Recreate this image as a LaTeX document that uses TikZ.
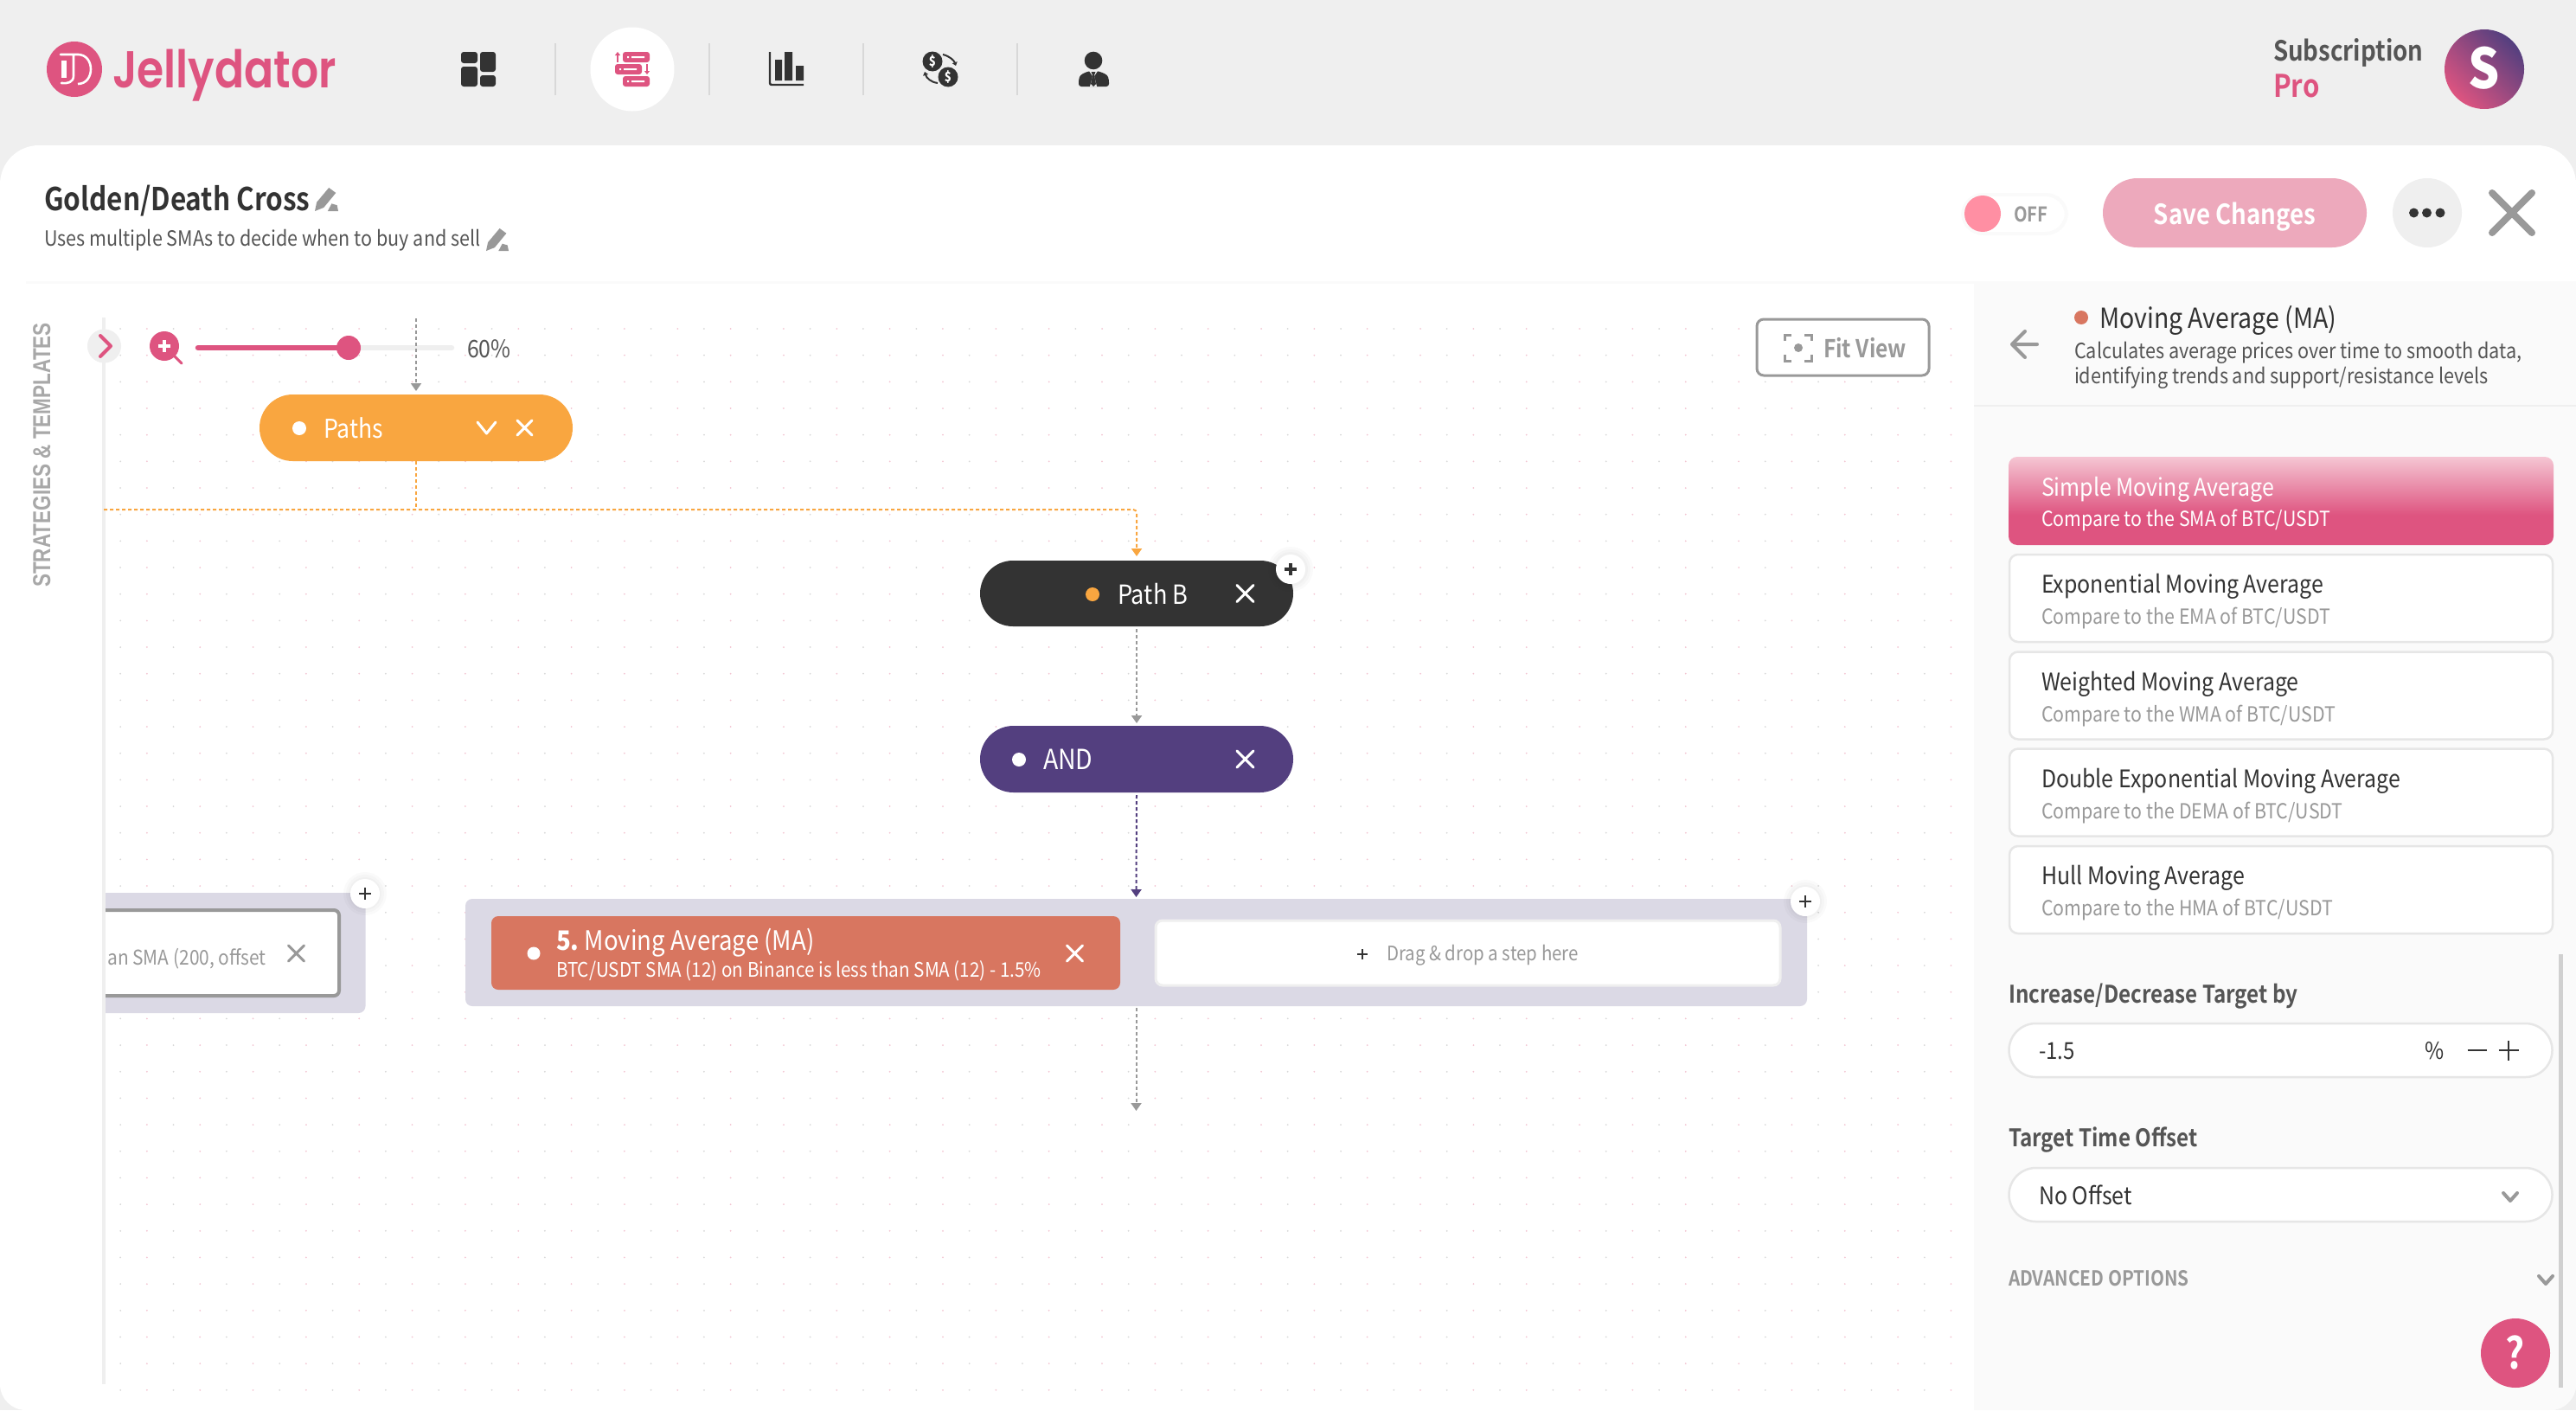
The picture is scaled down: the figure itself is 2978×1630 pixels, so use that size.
\documentclass[tikz,border=0pt]{standalone}
\usepackage{fontspec}
\usetikzlibrary{arrows.meta,shapes.misc}
\setmainfont[FakeStretch=0.89]{Noto Sans CJK SC}
\newfontfamily\nfm[FakeStretch=0.865]{Noto Sans CJK SC Bold}
\newfontfamily\logof[FakeStretch=0.84]{Poppins SemiBold}
\newfontfamily\arialf[FakeStretch=0.79]{Liberation Sans}
\definecolor{bandc}{HTML}{EFEFEF}
\definecolor{pinkc}{HTML}{DE5480}
\definecolor{pinkl}{HTML}{F5C6D3}
\definecolor{savec}{HTML}{EDA9BC}
\definecolor{togc}{HTML}{FF8FA3}
\definecolor{darkc}{HTML}{333333}
\definecolor{midc}{HTML}{555555}
\definecolor{greyc}{HTML}{999999}
\definecolor{orc}{HTML}{F9A640}
\definecolor{purc}{HTML}{533F7F}
\definecolor{redc}{HTML}{D87660}
\definecolor{grpc}{HTML}{DBD9E5}
\definecolor{panelc}{HTML}{FAFAFA}
\definecolor{edgec}{HTML}{E6E6E6}
\definecolor{dotp}{HTML}{F3C5D2}
\definecolor{dotg}{HTML}{D8D8D8}
\pgfdeclareverticalshading{cardg}{100bp}{color(0bp)=(pinkc); color(25bp)=(pinkc); color(42bp)=(pinkc); color(75bp)=(pinkl); color(100bp)=(pinkl)}
\tikzset{
  t/.style={anchor=base west,inner sep=0pt,outer sep=0pt,yshift=-1.5pt},
  tc/.style={anchor=base,inner sep=0pt,outer sep=0pt,yshift=-1.5pt},
  fs/.style={font=\fontsize{#1pt}{#1pt}\selectfont},
  fm/.style={font=\nfm\fontsize{#1pt}{#1pt}\selectfont},
  pill/.style={rounded rectangle,minimum width=362pt,minimum height=77pt,inner sep=0pt,outer sep=0pt},
  cardbox/.style={draw=edgec,line width=2.5pt,fill=white,rounded corners=10pt,inner sep=0pt,outer sep=0pt,minimum width=628pt,minimum height=101pt},
  field/.style={rounded rectangle,draw=edgec,line width=2.5pt,fill=white,inner sep=0pt,minimum width=628pt,minimum height=62pt},
  conn/.style={draw=#1,line width=2pt,dash pattern=on 4pt off 3pt,-{Triangle[width=12pt,length=9pt,fill=#1]}},
  connp/.style={draw=#1,line width=2pt,dash pattern=on 4pt off 3pt},
  addbtn/.style={circle,fill=white,minimum size=34pt,inner sep=0pt,outer sep=0pt},
  chev/.style={line width=4pt,line cap=round,line join=round},
}
\newcommand{\xmk}[5]{\draw[#4,line width=#5pt,line cap=round] (#1-#3,#2-#3) -- (#1+#3,#2+#3) (#1-#3,#2+#3) -- (#1+#3,#2-#3);}
\newcommand{\plk}[5]{\draw[#4,line width=#5pt] (#1-#3,#2) -- (#1+#3,#2) (#1,#2-#3) -- (#1,#2+#3);}
\newcommand{\penc}[3]{\begin{scope}[shift={(#1,#2)},x=#3pt,y=-#3pt]
  \fill[greyc] (0,1) -- (0.08,0.62) -- (0.6,0) -- (0.9,0.22) -- (0.38,0.85) -- cycle;
  \fill[greyc] (0.55,1) -- (0.72,0.68) -- (0.95,0.75) -- (1,1) -- cycle;
  \end{scope}}
\begin{document}
\begin{tikzpicture}[x=1pt,y=-1pt]
\useasboundingbox (0,0) rectangle (2978,1630);
\fill[bandc] (0,0) rectangle (2978,1630);
% main white sheet
\fill[white,rounded corners=45pt] (0,168) rectangle (2978,400);
\fill[white,rounded corners=30pt] (0,300) rectangle (2978,1630);
% logo
\fill[pinkc] (86,80) circle (32);
\draw[white,line width=2.6pt,line cap=round] (70,63) -- (90,63) (85,63) -- (85,88) .. controls (85,95) and (78,97) .. (71,96);
\fill[white] (71,70) rectangle (77,90);
\draw[white,line width=2.6pt] (90,63) .. controls (110,63) and (110,97) .. (90,97);
\node[t,font=\logof\fontsize{60pt}{60pt}\selectfont,text=pinkc,yshift=1.5pt] (logo) at (130,101) {Jellydator};
% nav grid icon
\fill[darkc,rounded corners=3pt] (533,60) rectangle (552,73) (533,77) rectangle (552,100) (555,60) rectangle (573,83) (555,87) rectangle (573,100);
\foreach \x in {642,820,998,1176} \draw[draw=dotg,line width=2pt] (\x,50) -- (\x,110);
% flow icon
\node[circle,fill=white,minimum size=97pt,inner sep=0pt] (navact) at (731,80) {};
\fill[pinkc,rounded corners=3pt] (720,60) rectangle (751,72) (711,74) rectangle (742,86) (720,88) rectangle (751,100);
\fill[white] (725,65) rectangle (727,67) (730,65) rectangle (745,67) (716,79) rectangle (718,81) (721,79) rectangle (736,81) (725,93) rectangle (727,95) (730,93) rectangle (745,95);
\draw[pinkc,line width=2pt,-{Triangle[width=6pt,length=4pt]}] (714,72) -- (714,60);
\draw[pinkc,line width=2pt,-{Triangle[width=6pt,length=4pt]}] (748,74) -- (748,86);
% chart icon
\draw[darkc,line width=2.4pt,rounded corners=2pt] (890,60) -- (890,98) -- (929,98);
\fill[darkc] (896,69) rectangle (904,93) (907,60) rectangle (916,93) (920,76) rectangle (929,93);
% money icon
\fill[darkc] (1078,71) circle (11.5) (1096,89) circle (11.5);
\node[tc,fs=15,text=white] (d1) at (1078,75) {\bfseries\$};
\node[tc,fs=15,text=white] (d2) at (1096,93) {\bfseries\$};
\draw[darkc,line width=2pt,-{Triangle[width=6pt,length=4pt]}] (1090,63) .. controls (1098,65) and (1103,70) .. (1105,76);
\draw[darkc,line width=2pt,-{Triangle[width=6pt,length=4pt]}] (1084,96) .. controls (1076,95) and (1071,90) .. (1069,83);
% user icon
\fill[darkc] (1264,70) circle (10.3);
\fill[darkc,rounded corners=3pt] (1247,100) -- (1247,92) .. controls (1249,86) and (1254,84) .. (1260,82) -- (1268,82) .. controls (1275,84) and (1280,86) .. (1282,92) -- (1282,100) -- cycle;
\fill[bandc] (1259,82) -- (1269,82) -- (1265,88) -- (1268,100) -- (1260,100) -- (1263,88) -- cycle;
\fill[darkc] (1261.5,83) -- (1266.5,83) -- (1265,87) -- (1267,97) -- (1264,100) -- (1261,97) -- (1263,87) -- cycle;
% subscription
\node[t,fm=32,text=midc] (subs) at (2628,69) {Subscription};
\node[t,fm=36,text=pinkc] (pro) at (2628,111) {Pro};
\shade[left color=pinkc,right color=purc,shading angle=135] (2872,80) circle (46);
\node[tc,fs=64,text=white] (avatar) at (2872,101) {\bfseries S};
% header
\node[t,fm=36.5,text=darkc] (title) at (51,242) {Golden/Death Cross};
\penc{364}{217}{27}
\node[t,fs=24.2,text=midc] (subtitle) at (51,283) {Uses multiple SMAs to decide when to buy and sell};
\penc{562}{264}{26}
\fill[white,draw=panelc,line width=4pt,rounded corners=24pt] (2269,225) rectangle (2389,270);
\fill[togc] (2292,247) circle (21);
\node[t,fm=23.5,text=greyc] (off) at (2328,255) {OFF};
\node[rounded rectangle,fill=savec,minimum width=305pt,minimum height=80pt,inner sep=0pt] (save) at (2583.5,246) {};
\node[tc,fm=32,text=white] (savet) at (2583.5,258) {Save Changes};
\fill[bandc] (2806,246) circle (40);
\fill[darkc] (2790.5,246) circle (5.5) (2805.5,246) circle (5.5) (2821,246) circle (5.5);
\xmk{2904}{246}{23}{greyc}{8}
\draw[draw=panelc,line width=3pt] (30,326) -- (2282,326);
% right panel
\fill[panelc] (2282,325) -- (2978,325) [rounded corners=30pt] -- (2978,1630) [sharp corners] -- (2282,1630) -- cycle;
% canvas dots
\fill[dotp] \foreach \j in {0,...,40} {\foreach \i in {1,3,...,69} {(139.2+\i*30.67,380+\j*30.67) circle (1)}};
\fill[dotg] \foreach \j in {0,...,40} {\foreach \i in {0,2,...,68} {(139.2+\i*30.67,380+\j*30.67) circle (1)}};
% left rail
\node[rotate=90,anchor=base,inner sep=0pt,font=\arialf\bfseries\fontsize{28.5pt}{28.5pt}\selectfont,text=greyc!85] (rail) at (58,526) {STRATEGIES \& TEMPLATES};
\draw[draw=bandc,line width=4pt] (120,367) -- (120,1600);
\fill[bandc] (120.5,400) circle (19.5);
\draw[pinkc,chev] (116,388) -- (128,400) -- (116,412);
% zoom control
\draw[pinkc,line width=3pt,line cap=round] (200,410) -- (210,420);
\fill[pinkc] (190,400) circle (17);
\plk{190}{400}{7}{white}{3.5}
\draw[bandc,line width=6.5pt,line cap=round] (229,402) -- (522,402);
\draw[pinkc,line width=6.5pt,line cap=round] (229,402) -- (403,402);
\fill[pinkc] (403,402) circle (14);
\node[t,fs=28,text=midc] (pct) at (540,412) {60\%};
% fit view
\node[draw=greyc,line width=3pt,rounded corners=8pt,fill=white,minimum width=199pt,minimum height=65pt,inner sep=0pt] (fit) at (2130.5,401.5) {};
\draw[greyc,line width=3pt] (2063,394) -- (2063,387) -- (2071,387) (2086,387) -- (2094,387) -- (2094,394) (2094,410) -- (2094,417) -- (2086,417) (2071,417) -- (2063,417) -- (2063,410);
\fill[greyc] (2079,402) circle (5);
\node[t,fm=28.5,text=greyc] (fitt) at (2108,412) {Fit View};
% flow nodes
\coordinate (topc) at (481,368);
\node[pill,fill=orc] (paths) at (481,494.5) {};
\coordinate (bus) at (481,589);
\coordinate (busl) at (120,589);
\node[pill,fill=darkc,minimum height=76pt] (pathb) at (1314,686) {};
\node[pill,fill=purc] (andn) at (1314,877.5) {};
\node[draw=none,fill=grpc,rounded corners=8pt,minimum width=1551pt,minimum height=124pt,inner sep=0pt,outer sep=0pt] (grp) at (1313.5,1101) {};
\coordinate (endc) at (1313.5,1284);
\draw[conn=greyc,shorten >=4pt] (topc) -- (paths.north);
\draw[connp=orc] (paths.south) -- (bus);
\draw[conn=orc,shorten >=5pt,rounded corners=4pt] (busl) -- (bus) -- (pathb.north |- bus) -- (pathb.north);
\draw[conn=greyc,shorten <=3pt,shorten >=3pt] (pathb.south) -- (andn.north);
\draw[conn=purc,shorten <=3pt,shorten >=2pt] (andn.south) -- (grp.north);
\draw[conn=greyc,shorten <=2pt] (grp.south) -- (endc);
% Paths content
\fill[white] (346,495) circle (8);
\node[t,fs=30,text=white] (pathst) at (374,505) {Paths};
\draw[white,line width=3pt,line cap=round,line join=round] (552,488) -- (562.5,501) -- (573,488);
\xmk{606.5}{494.5}{8.5}{white}{3}
% Path B content
\fill[orc] (1263,687) circle (8);
\node[t,fs=30.5,text=white] (pathbt) at (1292,697) {Path B};
\xmk{1439.5}{686}{9.5}{white}{3}
\foreach \r in {26,23,20} \fill[black,opacity=0.02] (1492,658) circle (\r);
\node[addbtn] (addb) at (1492,658) {};
\plk{1492}{658}{7}{darkc}{3.5}
% AND content
\fill[white] (1178,878) circle (8);
\node[t,fs=32,text=white] (andt) at (1206,888) {AND};
\xmk{1439.5}{877.5}{9.5}{white}{3}
% step box
\node[fill=redc,rounded corners=8pt,minimum width=727pt,minimum height=85pt,inner sep=0pt] (ma) at (931.5,1101.5) {};
\fill[white] (617,1102) circle (7.5);
\node[t,fs=31,text=white] (mat) at (643,1097) {\bfseries 5.\ {\mdseries Moving Average (MA)}};
\node[t,fs=23.2,text=white] (mad) at (643,1128) {BTC/USDT SMA (12) on Binance is less than SMA (12) - 1.5\%};
\xmk{1242.5}{1102}{9}{white}{3}
\node[fill=white,draw=bandc,line width=3pt,rounded corners=8pt,minimum width=722pt,minimum height=75pt,inner sep=0pt] (drop) at (1697,1101.5) {};
\plk{1575}{1103}{6}{darkc}{2.4}
\node[t,fs=23,text=greyc] (dropt) at (1603,1109) {Drag \& drop a step here};
\foreach \r in {25,22,19} \fill[black,opacity=0.02] (2087,1042) circle (\r);
\node[addbtn] (adda) at (2087,1042) {};
\plk{2087}{1042}{7}{darkc}{2.4}
% left group clipped
\begin{scope}
\clip (122,1000) rectangle (470,1200);
\node[fill=grpc,rounded corners=8pt,minimum width=422pt,minimum height=139pt,inner sep=0pt,outer sep=0pt] (grpl) at (211.5,1101.5) {};
\node[fill=white,draw=greyc,line width=4pt,rounded corners=6pt,minimum width=392pt,minimum height=99pt,inner sep=0pt] (stepl) at (196,1101.5) {};
\node[anchor=base east,inner sep=0pt,fs=23.5,text=greyc,yshift=-1.5pt] (steplt) at (308,1114) {than SMA (200, offset};
\end{scope}
\xmk{342.5}{1102}{9}{greyc}{3}
\foreach \r in {25,22,19} \fill[black,opacity=0.02] (422,1033) circle (\r);
\node[addbtn] (addl) at (422,1033) {};
\plk{422}{1033}{7}{darkc}{2.4}
% panel header
\fill[redc] (2406,367) circle (8);
\node[t,fs=32,text=darkc] (hd) at (2427,378) {Moving Average (MA)};
\node[t,fs=24.3,text=midc] (hd1) at (2398,413) {Calculates average prices over time to smooth data,};
\node[t,fs=24.3,text=midc] (hd2) at (2398,442) {identifying trends and support/resistance levels};
\draw[greyc,line width=4pt,line cap=round,line join=round] (2341,383) -- (2326,398) -- (2341,413) (2326,398) -- (2355,398);
\draw[draw=bandc,line width=2pt] (2282,469) -- (2978,469);
% cards
\path[shading=cardg,rounded corners=10pt] (2322,528) rectangle (2952,630);
\node[inner sep=0pt,minimum width=630pt,minimum height=102pt] (c1) at (2637,579) {};
\node[t,fs=28,text=white] (c1a) at (2360,571.5) {Simple Moving Average};
\node[t,fs=24,text=white] (c1b) at (2360,607) {Compare to the SMA of BTC/USDT};
\node[cardbox] (c2) at (2637,691.5) {};
\node[t,fs=28,text=darkc] (c2a) at (2360,684) {Exponential Moving Average};
\node[t,fs=24,text=greyc] (c2b) at (2360,720) {Compare to the EMA of BTC/USDT};
\node[cardbox] (c3) at (2637,804) {};
\node[t,fs=28,text=darkc] (c3a) at (2360,796.5) {Weighted Moving Average};
\node[t,fs=24,text=greyc] (c3b) at (2360,832.5) {Compare to the WMA of BTC/USDT};
\node[cardbox] (c4) at (2637,916) {};
\node[t,fs=28,text=darkc] (c4a) at (2360,909) {Double Exponential Moving Average};
\node[t,fs=24,text=greyc] (c4b) at (2360,945) {Compare to the DEMA of BTC/USDT};
\node[cardbox] (c5) at (2637,1028.5) {};
\node[t,fs=28,text=darkc] (c5a) at (2360,1021) {Hull Moving Average};
\node[t,fs=24,text=greyc] (c5b) at (2360,1057) {Compare to the HMA of BTC/USDT};
% fields
\fill[dotg!120] (2958,1103) rectangle (2963,1604);
\node[t,fm=28,text=midc] (l1) at (2322,1158) {Increase/Decrease Target by};
\node[field] (f1) at (2636.5,1214) {};
\node[t,fs=27,text=darkc] (f1v) at (2357,1223) {-1.5};
\node[t,fs=27,text=darkc] (f1u) at (2803,1223) {\%};
\draw[darkc,line width=2.4pt] (2852.5,1214) -- (2875,1214);
\plk{2900}{1214}{11.5}{darkc}{2.4}
\node[t,fm=28,text=midc] (l2) at (2322,1324) {Target Time Offset};
\node[field] (f2) at (2636.5,1381) {};
\node[t,fs=28,text=darkc] (f2v) at (2357,1391) {No Offset};
\draw[greyc,chev] (2894,1379) -- (2902,1388) -- (2910,1379);
\node[t,fm=24,text=greyc] (adv) at (2322,1485) {ADVANCED OPTIONS};
\draw[greyc,chev] (2935,1475) -- (2943,1484) -- (2951,1475);
\node[circle,fill=pinkc,minimum size=80pt,inner sep=0pt] (help) at (2908,1564) {};
\node[tc,fm=50,text=white] (helpt) at (2908,1581) {?};
\end{tikzpicture}
\end{document}
